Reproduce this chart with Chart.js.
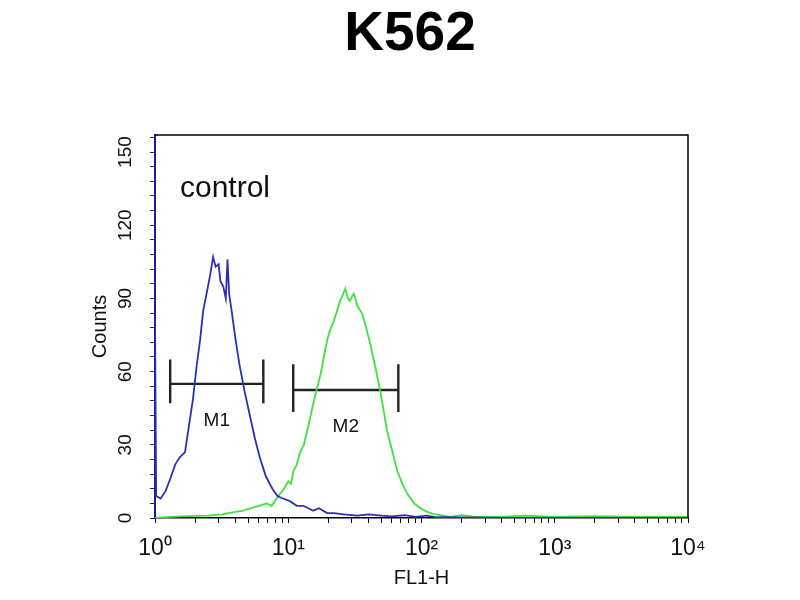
<!DOCTYPE html>
<html>
<head>
<meta charset="utf-8">
<script src="https://cdn.jsdelivr.net/npm/chart.js@4.4.1/dist/chart.umd.min.js"></script>
<style>
  html, body { margin: 0; padding: 0; background: #fff; }
  #wrap { width: 800px; height: 600px; }
</style>
</head>
<body>
<div id="wrap"><canvas id="chartFacs" width="800" height="600"></canvas></div>
<script>
/* ──── Données ───────────────────────────────────────── */

const chartTitle = 'K562';
const xTitle     = 'FL1-H';
const yTitle     = 'Counts';

const xTickLabels = { 1: '10⁰', 10: '10¹', 100: '10²', 1000: '10³', 10000: '10⁴' };
const yMajor      = [0, 30, 60, 90, 120, 150];

// contrôle (bleu)
const blueX = [1, 1.02, 1.1, 1.2, 1.3, 1.42, 1.54, 1.68, 1.8, 1.93, 2.05, 2.18, 2.3, 2.46, 2.6, 2.73,
  2.85, 3.0, 3.1, 3.25, 3.4, 3.5, 3.6, 3.78, 4.0, 4.3, 4.7, 5.2, 5.6, 6.1, 6.8, 7.6, 8.3, 9.1,
  10.2, 11.6, 13, 15.4, 17, 19.6, 22, 26, 33, 40, 50, 60, 75, 90, 110, 130, 200, 400, 10000];
const blueY = [82, 9, 8, 11, 16, 22, 25, 27, 38, 49, 62, 73, 85, 93, 100, 107,
  103, 104, 97, 95, 90, 106, 92, 84, 74, 63, 52, 41, 33, 25, 17, 12, 9, 8,
  7, 5, 5, 3, 4, 2, 2, 1.5, 1, 1.5, 1, 0.7, 1.2, 0.5, 1, 0.3, 0.2, 0, 0];

// échantillon (vert)
const greenX = [1, 1.3, 1.8, 2.5, 3.2, 4, 4.6, 5.2, 6, 6.9, 7.5, 8.2, 8.7, 9.3, 10, 10.5, 10.9,
  11.6, 12.3, 13.1, 13.9, 14.6, 15.4, 16.4, 17.5, 18.5, 19.6, 20.6, 21.7, 23, 24.5, 25.5, 26.8,
  28, 29, 31, 33, 35.7, 38, 41, 45, 49, 52, 55, 60, 66, 72, 78, 88, 98, 110, 125, 145, 165,
  200, 250, 400, 600, 1000, 2000, 4000, 10000];
const greenY = [0, 0.5, 0.8, 1, 1.5, 2.5, 3, 4, 5, 6, 5, 8, 10, 12, 15, 14, 19,
  22, 27, 30, 36, 41, 47, 53, 59, 66, 73, 77, 80, 84, 89, 91, 94,
  90, 89, 92, 87, 84, 79, 72, 62, 52, 44, 36, 28, 19, 14, 10, 6, 4, 2.5, 1.6, 1, 0.5,
  1.2, 0.5, 0.5, 1, 0.5, 0.8, 0.5, 0.5];

// marqueurs M1 / M2 : début, fin, niveau, bas et haut des barres
const markerNames = ['M1', 'M2'];
const markerStart = [1.3, 10.9];
const markerEnd   = [6.5, 67];
const markerLevel = [55, 52.5];
const markerLow   = [47, 43.5];
const markerHigh  = [65, 63];

const annotText = 'control';

/* ──── Construction ──────────────────────────────────── */

const FONT = '"Liberation Sans Narrow", "Liberation Sans", Arial, sans-serif';

function pairs(xs, ys) {
  return xs.map((x, i) => ({ x, y: ys[i] }));
}

function markerPath(i) {
  const a = markerStart[i], b = markerEnd[i];
  return [
    { x: a, y: markerHigh[i] }, { x: a, y: markerLow[i] }, { x: a, y: markerLevel[i] },
    { x: b, y: markerLevel[i] }, { x: b, y: markerHigh[i] }, { x: b, y: markerLow[i] },
  ];
}

const frameAndText = {
  id: 'frameAndText',
  afterDatasetsDraw(chart) {
    const { ctx, chartArea: a, scales: { x, y } } = chart;
    ctx.save();
    ctx.strokeStyle = '#000';
    ctx.lineWidth = 1.5;
    ctx.beginPath();
    ctx.moveTo(a.left, a.top);
    ctx.lineTo(a.right, a.top);
    ctx.lineTo(a.right, a.bottom);
    ctx.stroke();

    ctx.fillStyle = '#111';
    ctx.textBaseline = 'middle';
    ctx.textAlign = 'left';
    ctx.font = '30px ' + FONT;
    ctx.fillText(annotText, x.getPixelForValue(1.54), y.getPixelForValue(135));

    ctx.textAlign = 'center';
    ctx.font = '19px ' + FONT;
    markerNames.forEach((name, i) => {
      const mid = Math.sqrt(markerStart[i] * markerEnd[i]);
      ctx.fillText(name, x.getPixelForValue(mid), y.getPixelForValue(markerLevel[i] - 15));
    });
    ctx.restore();
  },
};

const datasets = [
  { data: pairs(blueX, blueY),   borderColor: '#2e2eb4', borderWidth: 1.8 },
  { data: pairs(greenX, greenY), borderColor: '#3fe03f', borderWidth: 1.8 },
].concat(markerNames.map((_, i) => ({
  data: markerPath(i), borderColor: '#222', borderWidth: 2.4,
})));

datasets.forEach(d => { d.pointRadius = 0; d.tension = 0; d.fill = false; });

const ctx = document.getElementById('chartFacs').getContext('2d');
new Chart(ctx, {
  type: 'line',
  data: { datasets },
  options: {
    responsive: false,
    animation: false,
    layout: { padding: { left: 20, right: 0, top: 0, bottom: 0 } },
    plugins: {
      legend: { display: false },
      tooltip: { enabled: false },
      title: {
        display: true,
        text: chartTitle,
        color: '#000',
        font: { family: 'Liberation Sans, Arial, sans-serif', size: 55, weight: 'bold' },
        padding: { top: 2, bottom: 67 },
      },
    },
    scales: {
      x: {
        type: 'logarithmic',
        min: 1, max: 10000,
        afterBuildTicks: s => {
          const t = [];
          for (let d = 1; d < 10000; d *= 10) for (let k = 1; k < 10; k++) t.push({ value: k * d });
          t.push({ value: 10000 });
          s.ticks = t;
        },
        afterFit: s => { s.height = 82; },
        ticks: {
          autoSkip: false, maxRotation: 0, padding: 12, color: '#111',
          font: { family: FONT, size: 23 },
          callback: v => xTickLabels[v] || '',
        },
        grid: { drawOnChartArea: false, tickLength: 5, color: '#000' },
        border: { color: '#000', width: 1.5 },
        title: {
          display: true, text: xTitle, color: '#111',
          font: { family: FONT, size: 20 },
          padding: { top: 0, bottom: 10 },
        },
      },
      y: {
        type: 'linear',
        min: 0, max: 157,
        afterBuildTicks: s => {
          const t = [];
          for (let v = 0; v <= 156; v += 6) t.push({ value: v });
          s.ticks = t;
        },
        afterFit: s => { s.width = 135; },
        ticks: {
          autoSkip: false, minRotation: 90, maxRotation: 90, padding: 8, color: '#111',
          crossAlign: 'center',
          font: { family: FONT, size: 19 },
          callback: v => (yMajor.includes(v) ? String(v) : ''),
        },
        grid: { drawOnChartArea: false, tickLength: 5, color: '#1c1c8a' },
        border: { color: '#1c1c8a', width: 2 },
        title: {
          display: true, text: yTitle, color: '#111',
          font: { family: FONT, size: 20 },
          padding: { top: 68, bottom: 0 },
        },
      },
      yRight: {
        type: 'linear',
        position: 'right',
        min: 0, max: 157,
        afterFit: s => { s.width = 112; },
        ticks: { display: false },
        grid: { display: false },
        border: { display: false },
      },
    },
  },
  plugins: [frameAndText],
});
</script>
</body>
</html>
